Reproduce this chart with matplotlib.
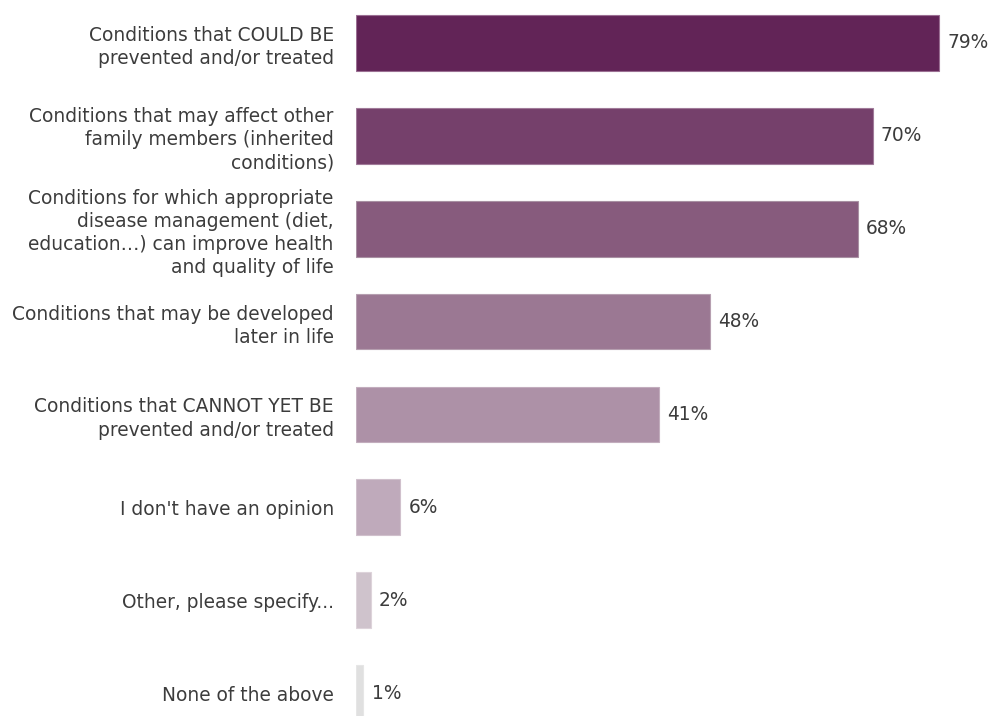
import matplotlib
matplotlib.use("Agg")
import matplotlib.pyplot as plt

categories = [
    "Conditions that COULD BE\nprevented and/or treated",
    "Conditions that may affect other\nfamily members (inherited\nconditions)",
    "Conditions for which appropriate\ndisease management (diet,\neducation…) can improve health\nand quality of life",
    "Conditions that may be developed\nlater in life",
    "Conditions that CANNOT YET BE\nprevented and/or treated",
    "I don't have an opinion",
    "Other, please specify...",
    "None of the above",
]
values = [79, 70, 68, 48, 41, 6, 2, 1]
colors = ["#622457", "#75406b", "#875b7d", "#9b7893",
          "#ad91a7", "#bfaabb", "#cfc3cc", "#e0e0e0"]
edge_colors = ["#9b6f93", "#a07a99", "#a890a2", "#b69fb0",
               "#c2adbd", "#d0c0cc", "#ddd3da", "#e6e6e6"]

text_color = "#3c3c3c"
font_size = 13.4

fig = plt.figure(figsize=(9.91, 7.16), dpi=100)
ax = fig.add_axes([356 / 991, 0, 635 / 991, 1])

ypos = list(range(len(values)))
ax.barh(ypos, values, height=0.6, color=colors, edgecolor=edge_colors, linewidth=0.8)

for y, v in zip(ypos, values):
    ax.annotate(f"{v}%", xy=(v, y), xytext=(6, 0), textcoords="offset points",
                va="center", ha="left", fontsize=font_size, color=text_color)

ax.set_xlim(0, 635 / 7.38)
ax.set_ylim(7 + 23 / 92.86, -43 / 92.86)
ax.set_yticks(ypos)
ax.set_yticklabels(categories, fontsize=font_size, color=text_color, linespacing=1.28)
ax.tick_params(axis="y", length=0, pad=16)
ax.set_xticks([])
for s in ax.spines.values():
    s.set_visible(False)

fig.savefig("out.png", dpi=100)
